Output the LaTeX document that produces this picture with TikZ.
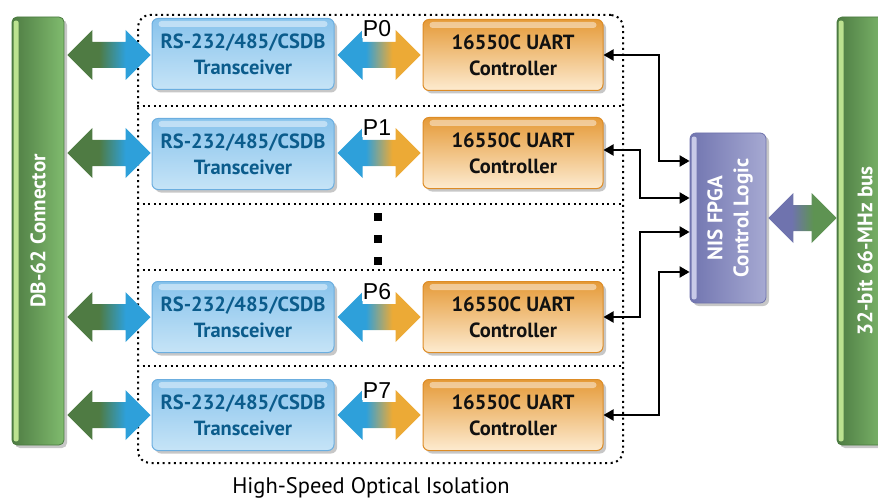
\documentclass[tikz,border=0pt]{standalone}
\usepackage{fontspec}
\setmainfont{PT Sans}
\newfontfamily\arialf{Liberation Sans}
\usetikzlibrary{shadows,arrows.meta,calc}
\definecolor{barL}{HTML}{4E7C43}
\definecolor{barR}{HTML}{80BB6E}
\definecolor{barHL}{HTML}{BCE290}
\definecolor{barBd}{HTML}{4A7A40}
\definecolor{fpL}{HTML}{7175B0}
\definecolor{fpR}{HTML}{A6A9D2}
\definecolor{fpHL}{HTML}{C8CAE8}
\definecolor{fpBd}{HTML}{6E72AC}
\definecolor{tTop}{HTML}{88C3EC}
\definecolor{tBot}{HTML}{C6E4F7}
\definecolor{tBd}{HTML}{6CAEDF}
\definecolor{tTxt}{HTML}{0B5C8C}
\definecolor{uTop}{HTML}{E59A38}
\definecolor{uBot}{HTML}{FDEBD0}
\definecolor{uBd}{HTML}{DD8C26}
\definecolor{uTxt}{HTML}{111111}
\definecolor{aGreen}{HTML}{4F7B43}
\definecolor{aBlue}{HTML}{2EA0DA}
\definecolor{aOrange}{HTML}{ECAA36}
\definecolor{aPurple}{HTML}{6F73AE}
\definecolor{aGreenB}{HTML}{5E9352}
\pgfdeclarehorizontalshading{gbS}{100bp}{color(0bp)=(aGreen); color(25bp)=(aGreen); color(44bp)=(aGreen); color(60bp)=(aBlue); color(75bp)=(aBlue); color(100bp)=(aBlue)}
\pgfdeclarehorizontalshading{boS}{100bp}{color(0bp)=(aBlue); color(25bp)=(aBlue); color(42bp)=(aBlue); color(58bp)=(aOrange); color(75bp)=(aOrange); color(100bp)=(aOrange)}
\pgfdeclarehorizontalshading{pgS}{100bp}{color(0bp)=(aPurple); color(25bp)=(aPurple); color(42bp)=(aPurple); color(58bp)=(aGreenB); color(75bp)=(aGreenB); color(100bp)=(aGreenB)}
\newcommand\fatarr[3]{%
  \shade[shading=#3] let \p1=(#1), \p2=(#2) in
    (\x1,\y1) -- (\x1+25pt,\y1+25pt) -- (\x1+25pt,\y1+13pt) -- (\x2-25pt,\y1+13pt)
    -- (\x2-25pt,\y1+25pt) -- (\x2,\y1) -- (\x2-25pt,\y1-25pt) -- (\x2-25pt,\y1-13pt)
    -- (\x1+25pt,\y1-13pt) -- (\x1+25pt,\y1-25pt) -- cycle;}
\tikzset{
  shd/.style={drop shadow={shadow xshift=3pt,shadow yshift=-3pt,fill=black!22,opacity=1}},
  tbox/.style={shd,rounded corners=6pt,minimum width=182pt,minimum height=71pt,
    top color=tTop,bottom color=tBot,draw=tBd,line width=1pt,align=center,
    text=tTxt,font=\fontsize{20.5}{26}\selectfont\bfseries},
  ubox/.style={shd,rounded corners=6pt,minimum width=180pt,minimum height=71pt,
    top color=uTop,bottom color=uBot,draw=uBd,line width=1pt,align=center,
    text=uTxt,font=\fontsize{20.5}{26}\selectfont\bfseries},
  barbox/.style={shd,rounded corners=5pt,minimum width=52pt,minimum height=428pt,
    left color=barL,right color=barR,draw=barBd,line width=0.8pt},
  fpgabox/.style={shd,rounded corners=6pt,minimum width=76pt,minimum height=170pt,
    left color=fpL,right color=fpR,draw=fpBd,line width=0.8pt},
  vtext/.style={rotate=90,text=white,align=center,font=\fontsize{21}{26}\selectfont\bfseries},
  plabel/.style={fill=white,inner sep=1pt,font=\arialf\fontsize{23}{23}\selectfont},
  conn/.style={line width=2pt,{Triangle[length=10pt,width=11pt]}-{Triangle[length=10pt,width=11pt]}},
  dotln/.style={line width=2pt,dash pattern=on 2pt off 3.6pt},
  isobox/.style={dotln,rounded corners=12pt,minimum width=485pt,minimum height=448pt},
  dotsq/.style={fill=black,minimum size=8pt,inner sep=0pt},
  hl/.style={fill=white,opacity=0.45,rounded corners=3pt}
}
\begin{document}
\begin{tikzpicture}[x=1pt,y=-1pt]
\useasboundingbox (0,0) rectangle (878,500);
% isolation box
\node[isobox,draw] (iso) at (380.5,239) {};
\foreach \yy in {106,204,270,366}
  \draw[dotln] (iso.west |- 0,\yy) -- (iso.east |- 0,\yy);
% bars
\node[barbox] (lbar) at (38,231) {};
\node[barbox] (rbar) at (863,231) {};
\foreach \bb in {lbar,rbar}
  \fill[barHL,rounded corners=2pt] ([xshift=2pt,yshift=-4pt]\bb.north west) rectangle ([xshift=7pt,yshift=4pt]\bb.south west);
\node[vtext] (ltxt) at (lbar.center) {DB-62 Connector};
\node[vtext] (rtxt) at ([xshift=2pt,yshift=-20pt]rbar.center) {32-bit 66-MHz bus};
% FPGA
\node[fpgabox] (f) at (728,218) {};
\fill[fpHL,rounded corners=2pt] ([xshift=2pt,yshift=-4pt]f.north west) rectangle ([xshift=7pt,yshift=4pt]f.south west);
\node[vtext] (ftxt) at ([xshift=2pt]f.center) {NIS FPGA\\Control Logic};
% rows
\node[tbox] (t0) at (243,54) {RS-232/485/CSDB\\Transceiver};
\node[tbox] (t1) at (243,154) {RS-232/485/CSDB\\Transceiver};
\node[tbox] (t6) at (243,317) {RS-232/485/CSDB\\Transceiver};
\node[tbox] (t7) at (243,415) {RS-232/485/CSDB\\Transceiver};
\node[ubox] (u0) at (513,55) {16550C UART\\Controller};
\node[ubox] (u1) at (513,153) {16550C UART\\Controller};
\node[ubox] (u6) at (513,317) {16550C UART\\Controller};
\node[ubox] (u7) at (513,415) {16550C UART\\Controller};
\foreach \bx in {t0,t1,t6,t7,u0,u1,u6,u7}
  \fill[hl] ([xshift=7pt,yshift=-3pt]\bx.north west) rectangle ([xshift=-7pt,yshift=-9pt]\bx.north east);
% fat arrows
\foreach \rw/\uc in {t0/u0,t1/u1,t6/u6,t7/u7}{
  \path (lbar.east |- \uc.west) ++(3,0) coordinate (la\rw);
  \path (\rw.west |- \uc.west) ++(-1,0) coordinate (lb\rw);
  \path (\rw.east |- \uc.west) ++(3,0) coordinate (ma\rw);
  \path (\uc.west) ++(-2,0) coordinate (mb\rw);
  \fatarr{la\rw}{lb\rw}{gbS}
  \fatarr{ma\rw}{mb\rw}{boS}
}
\path (f.east) ++(2,0) coordinate (ra);
\path (rbar.west |- f.east) coordinate (rb);
\fatarr{ra}{rb}{pgS}
% P labels
\node[plabel] (p0) at (377,29) {P0};
\node[plabel] (p1) at (377,128) {P1};
\node[plabel] (p6) at (377,292) {P6};
\node[plabel] (p7) at (377,391) {P7};
% dots
\node[dotsq] (d1) at (378,217) {};
\node[dotsq] (d2) at (378,239) {};
\node[dotsq] (d3) at (378,261) {};
% connectors
\coordinate (j0) at (659,161);
\coordinate (j1) at (640,198);
\coordinate (j6) at (640,232);
\coordinate (j7) at (659,272);
\draw[conn] (u0.east) -| (j0) -- (j0 -| f.west);
\draw[conn] ([yshift=3pt]u1.east) -| (j1) -- (j1 -| f.west);
\draw[conn] (f.west |- j6) -- (j6) |- (u6.east);
\draw[conn] (f.west |- j7) -- (j7) |- (u7.east);
% caption
\node[font=\fontsize{22.5}{24}\selectfont] (cap) at (371,488) {High-Speed Optical Isolation};
\end{tikzpicture}
\end{document}
